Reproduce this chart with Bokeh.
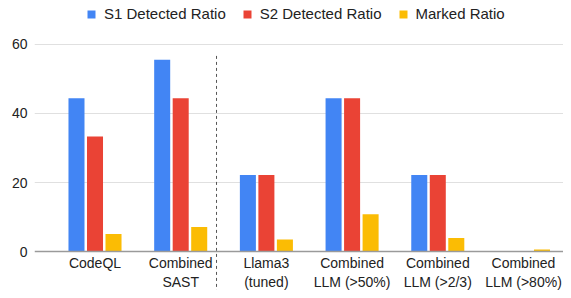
from bokeh.plotting import figure
from bokeh.models import Range1d, FixedTicker, Legend, LegendItem
from bokeh.embed import file_html
from bokeh.resources import INLINE

categories = ["CodeQL", "Combined\nSAST", "Llama3\n(tuned)", "Combined\nLLM (>50%)",
              "Combined\nLLM (>2/3)", "Combined\nLLM (>80%)"]
s1_detected = [44.4, 55.6, 22.2, 44.4, 22.2, 0.0]
s2_detected = [33.3, 44.4, 22.2, 44.4, 22.2, 0.0]
marked = [5.1, 7.1, 3.5, 10.8, 3.9, 0.6]
series_names = ["S1 Detected Ratio", "S2 Detected Ratio", "Marked Ratio"]
y_ticks = [0, 20, 40, 60]

FONT = "Liberation Sans"
colors = ["#4285F4", "#EA4335", "#FBBC04"]

p = figure(width=563, height=290, output_backend="svg", toolbar_location=None,
           x_range=Range1d(-0.206, 5.967), y_range=Range1d(-11.3, 72.75),
           min_border_left=34, min_border_right=0, min_border_top=0, min_border_bottom=0)
p.outline_line_color = None

centers = [i + 0.5 for i in range(len(categories))]
offsets = [-0.216, 0.0, 0.216]
renderers = []
for vals, off, c in zip([s1_detected, s2_detected, marked], offsets, colors):
    r = p.vbar(x=[x + off for x in centers], top=vals, bottom=0, width=0.187,
               fill_color=c, line_color=None)
    renderers.append(r)

# x axis (fixed at y=0)
xa = p.xaxis[0]
xa.fixed_location = 0
xa.ticker = FixedTicker(ticks=centers)
xa.major_label_overrides = {c: lab for c, lab in zip(centers, categories)}
xa.major_label_text_font = FONT
xa.major_label_text_font_size = "14px"
xa.major_label_text_color = "#222222"
xa.major_tick_line_color = None
xa.major_tick_out = 0
xa.major_tick_in = 0
xa.minor_tick_line_color = None
xa.axis_line_color = "#9a9a9a"
xa.axis_line_width = 1.5
xa.major_label_standoff = 3

ya = p.yaxis[0]
ya.ticker = FixedTicker(ticks=y_ticks)
ya.major_label_text_font = FONT
ya.major_label_text_font_size = "14px"
ya.major_label_text_color = "#222222"
ya.major_tick_line_color = None
ya.major_tick_out = 0
ya.major_tick_in = 0
ya.minor_tick_line_color = None
ya.axis_line_color = None
ya.major_label_standoff = 7

p.xgrid.grid_line_color = None
p.ygrid.grid_line_color = "#e0e0e0"
p.ygrid.ticker = FixedTicker(ticks=y_ticks[1:])

# dashed separator
p.segment(x0=[1.918], y0=[-12.0], x1=[1.918], y1=[57.4], line_color="#555555",
          line_dash="3 3", line_width=1)

legend = Legend(items=[LegendItem(label=n, renderers=[r]) for n, r in zip(series_names, renderers)],
                orientation="horizontal", location=(52, 268),
                label_text_font=FONT, label_text_font_size="15px", label_text_color="#222222",
                glyph_width=10, glyph_height=10, label_standoff=8, spacing=16,
                padding=0, margin=0, border_line_color=None, background_fill_alpha=0)
p.add_layout(legend)

open("out.html", "w").write(file_html(p, INLINE))
